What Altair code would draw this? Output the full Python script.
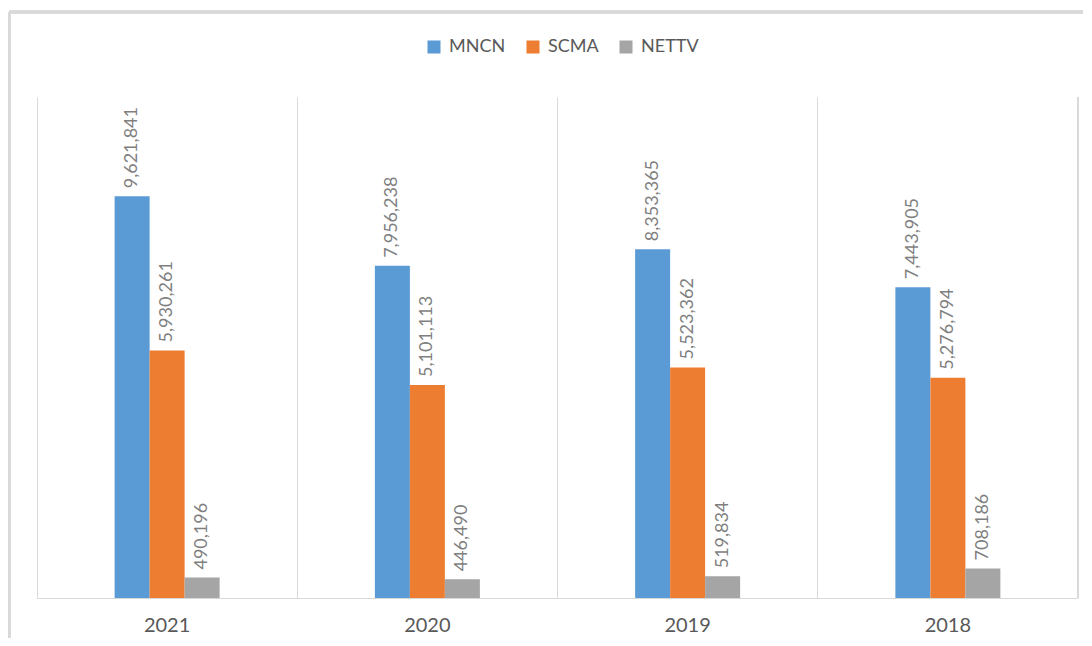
import altair as alt
import pandas as pd

years = ["2021", "2020", "2019", "2018"]
series = ["MNCN", "SCMA", "NETTV"]
mncn = [9621841, 7956238, 8353365, 7443905]
scma = [5930261, 5101113, 5523362, 5276794]
nettv = [490196, 446490, 519834, 708186]
colors = ["#5B9BD5", "#ED7D31", "#A5A5A5"]

rows = []
for i, y in enumerate(years):
    for s, vals in zip(series, [mncn, scma, nettv]):
        rows.append({"year": y, "series": s, "value": vals[i],
                     "label": f"{vals[i]:,}"})
df = pd.DataFrame(rows)

W, H = 1041, 501
FONT = "Lato"
BAND = W / 4
BW = 35

x_enc = alt.X("year:N", sort=years,
              scale=alt.Scale(paddingInner=0, paddingOuter=0),
              axis=alt.Axis(title=None, labelAngle=0, ticks=False,
                            bandPosition=0, grid=True, gridColor="#D9D9D9",
                            gridWidth=1, domainColor="#D9D9D9", domainWidth=1,
                            labelFontSize=20, labelColor="#595959",
                            labelFont=FONT, labelPadding=17))
xo_enc = alt.XOffset("series:N", sort=series,
                     scale=alt.Scale(paddingInner=0, paddingOuter=0,
                                     range=[BAND / 2 - 1.5 * BW, BAND / 2 + 1.5 * BW]))
y_enc = alt.Y("value:Q", scale=alt.Scale(domain=[0, 12000000]), axis=None)

base = alt.Chart(df)

bars = base.mark_bar().encode(
    x=x_enc, xOffset=xo_enc, y=y_enc,
    color=alt.Color("series:N", sort=series,
                    scale=alt.Scale(domain=series, range=colors),
                    legend=alt.Legend(title=None, orient="none",
                                      direction="horizontal",
                                      legendX=388, legendY=-59,
                                      symbolType="square", symbolSize=169,
                                      symbolStrokeWidth=0,
                                      labelFontSize=18, labelColor="#595959",
                                      labelFont=FONT, labelOffset=6,
                                      columnPadding=18)),
)

labels = base.mark_text(angle=270, align="left", baseline="middle", dx=8,
                        fontSize=18, font=FONT, color="#7F7F7F").encode(
    x=x_enc, xOffset=xo_enc, y=y_enc, text="label:N"
)

right_edge = alt.Chart(df).mark_rule(color="#D9D9D9", strokeWidth=1).encode(
    x=alt.value(W), y=alt.value(0), y2=alt.value(H)
)
border_left = alt.Chart(df).mark_rule(color="#D9D9D9", strokeWidth=2.5).encode(
    x=alt.value(-28), y=alt.value(-85), y2=alt.value(H + 60)
)
border_top = alt.Chart(df).mark_rule(color="#D9D9D9", strokeWidth=2.5).encode(
    x=alt.value(-28), x2=alt.value(W + 30), y=alt.value(-85)
)

chart = alt.layer(bars, labels, right_edge, border_left, border_top).properties(
    width=W, height=H,
    background="white",
    autosize=alt.AutoSizeParams(type="none"),
    padding={"left": 29, "top": 89, "right": 5, "bottom": 40},
).configure_view(strokeWidth=0, stroke="transparent")

chart.save("out.html", embed_options={"renderer": "svg", "actions": False})
